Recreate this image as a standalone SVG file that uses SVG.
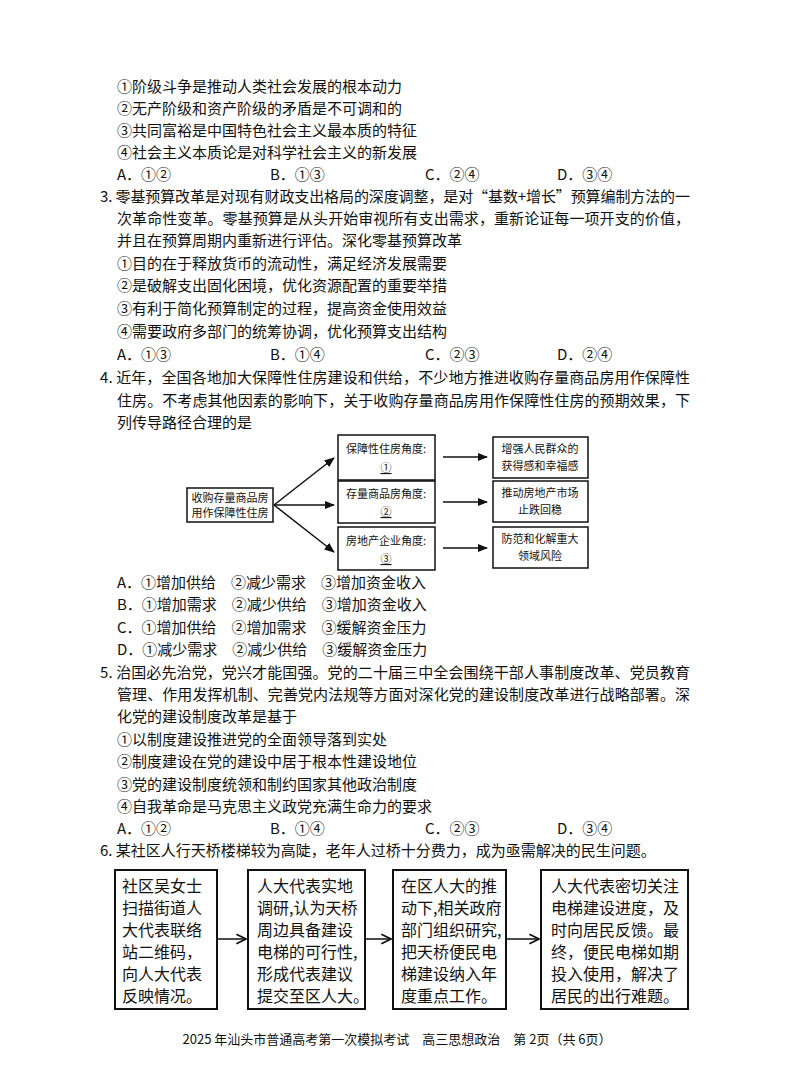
<svg xmlns="http://www.w3.org/2000/svg" width="794" height="1066" viewBox="0 0 794 1066">
<style>
text{font-family:"Noto Sans CJK SC","Noto Sans",sans-serif;font-size:15px;fill:#111}
.s{font-size:11px}
.b{font-size:16px}
rect{fill:#fff;stroke:#111;stroke-width:1.5}
.bx{stroke-width:2}
line{stroke:#111;stroke-width:1.5}
</style>
<defs><marker id="ah" viewBox="0 0 10 10" refX="9" refY="5" markerWidth="7" markerHeight="7" orient="auto"><path d="M0,1 L10,5 L0,9 z" fill="#111"/></marker>
<marker id="oa" viewBox="0 0 10 10" refX="9" refY="5" markerWidth="8" markerHeight="8" orient="auto"><path d="M1,1 L9,5 L1,9" fill="none" stroke="#111" stroke-width="1.5"/></marker></defs>
<rect x="0" y="0" width="794" height="1066" style="fill:#fff;stroke:none"/>
<text x="117" y="92">①阶级斗争是推动人类社会发展的根本动力</text>
<text x="117" y="114">②无产阶级和资产阶级的矛盾是不可调和的</text>
<text x="117" y="136">③共同富裕是中国特色社会主义最本质的特征</text>
<text x="117" y="158">④社会主义本质论是对科学社会主义的新发展</text>
<text x="117" y="180">A．①②</text><text x="270" y="180">B．①③</text><text x="425" y="180">C．②④</text><text x="557" y="180">D．③④</text>
<text x="100" y="202" textLength="590">3. 零基预算改革是对现有财政支出格局的深度调整，是对“基数+增长”预算编制方法的一</text>
<text x="117" y="224" textLength="573">次革命性变革。零基预算是从头开始审视所有支出需求，重新论证每一项开支的价值，</text>
<text x="117" y="246">并且在预算周期内重新进行评估。深化零基预算改革</text>
<text x="117" y="269">①目的在于释放货币的流动性，满足经济发展需要</text>
<text x="117" y="291">②是破解支出固化困境，优化资源配置的重要举措</text>
<text x="117" y="314">③有利于简化预算制定的过程，提高资金使用效益</text>
<text x="117" y="337">④需要政府多部门的统筹协调，优化预算支出结构</text>
<text x="117" y="360">A．①③</text><text x="270" y="360">B．①④</text><text x="425" y="360">C．②③</text><text x="557" y="360">D．②④</text>
<text x="100" y="383" textLength="590">4. 近年，全国各地加大保障性住房建设和供给，不少地方推进收购存量商品房用作保障性</text>
<text x="117" y="406" textLength="573">住房。不考虑其他因素的影响下，关于收购存量商品房用作保障性住房的预期效果，下</text>
<text x="117" y="428">列传导路径合理的是</text>
<g id="n-src"><rect x="187" y="488" width="86" height="34"/><text class="s" x="230" y="502" text-anchor="middle">收购存量商品房</text><text class="s" x="230" y="517" text-anchor="middle">用作保障性住房</text></g>
<g id="n-m1"><rect x="338" y="435" width="97" height="45"/><text class="s" x="386" y="453" text-anchor="middle">保障性住房角度:</text><text class="s" x="386" y="472" text-anchor="middle" text-decoration="underline">①</text></g>
<g id="n-m2"><rect x="338" y="481" width="97" height="42"/><text class="s" x="386" y="498" text-anchor="middle">存量商品房角度:</text><text class="s" x="386" y="516" text-anchor="middle" text-decoration="underline">②</text></g>
<g id="n-m3"><rect x="338" y="527" width="97" height="43"/><text class="s" x="386" y="545" text-anchor="middle">房地产企业角度:</text><text class="s" x="386" y="563" text-anchor="middle" text-decoration="underline">③</text></g>
<g id="n-r1"><rect x="493" y="437" width="95" height="41"/><text class="s" x="540" y="453" text-anchor="middle">增强人民群众的</text><text class="s" x="540" y="470" text-anchor="middle">获得感和幸福感</text></g>
<g id="n-r2"><rect x="493" y="481" width="95" height="41"/><text class="s" x="540" y="497" text-anchor="middle">推动房地产市场</text><text class="s" x="540" y="514" text-anchor="middle">止跌回稳</text></g>
<g id="n-r3"><rect x="493" y="527" width="95" height="41"/><text class="s" x="540" y="543" text-anchor="middle">防范和化解重大</text><text class="s" x="540" y="560" text-anchor="middle">领域风险</text></g>
<g id="connectors">
<line x1="274" y1="505" x2="334" y2="458" marker-end="url(#ah)"/>
<line x1="274" y1="505" x2="334" y2="505" marker-end="url(#ah)"/>
<line x1="274" y1="505" x2="334" y2="552" marker-end="url(#ah)"/>
<line x1="443" y1="457" x2="487" y2="457" marker-end="url(#ah)"/>
<line x1="443" y1="502" x2="487" y2="502" marker-end="url(#ah)"/>
<line x1="443" y1="548" x2="487" y2="548" marker-end="url(#ah)"/>
<line x1="217" y1="939" x2="246" y2="939" marker-end="url(#oa)"/>
<line x1="365" y1="939" x2="391" y2="939" marker-end="url(#oa)"/>
<line x1="506" y1="939" x2="539" y2="939" marker-end="url(#oa)"/>
</g>
<text x="117" y="588">A．①增加供给　②减少需求　③增加资金收入</text>
<text x="117" y="610">B．①增加需求　②减少供给　③增加资金收入</text>
<text x="117" y="633">C．①增加供给　②增加需求　③缓解资金压力</text>
<text x="117" y="655">D．①减少需求　②减少供给　③缓解资金压力</text>
<text x="100" y="678" textLength="590">5. 治国必先治党，党兴才能国强。党的二十届三中全会围绕干部人事制度改革、党员教育</text>
<text x="117" y="700" textLength="573">管理、作用发挥机制、完善党内法规等方面对深化党的建设制度改革进行战略部署。深</text>
<text x="117" y="722">化党的建设制度改革是基于</text>
<text x="117" y="745">①以制度建设推进党的全面领导落到实处</text>
<text x="117" y="767">②制度建设在党的建设中居于根本性建设地位</text>
<text x="117" y="790">③党的建设制度统领和制约国家其他政治制度</text>
<text x="117" y="812">④自我革命是马克思主义政党充满生命力的要求</text>
<text x="117" y="834">A．①②</text><text x="270" y="834">B．①④</text><text x="425" y="834">C．②③</text><text x="557" y="834">D．③④</text>
<text x="100" y="856">6. 某社区人行天桥楼梯较为高陡，老年人过桥十分费力，成为亟需解决的民生问题。</text>
<g id="n-f1"><rect class="bx" x="115" y="870" width="102" height="139"/>
<text class="b"><tspan x="122" y="892">社区吴女士</tspan><tspan x="122" y="914">扫描街道人</tspan><tspan x="122" y="936">大代表联络</tspan><tspan x="122" y="958">站二维码，</tspan><tspan x="122" y="980">向人大代表</tspan><tspan x="122" y="1002">反映情况。</tspan></text></g>
<g id="n-f2"><rect class="bx" x="248" y="870" width="117" height="139"/>
<text class="b"><tspan x="257" y="892">人大代表实地</tspan><tspan x="257" y="914">调研,认为天桥</tspan><tspan x="257" y="936">周边具备建设</tspan><tspan x="257" y="958">电梯的可行性,</tspan><tspan x="257" y="980">形成代表建议</tspan><tspan x="257" y="1002">提交至区人大。</tspan></text></g>
<g id="n-f3"><rect class="bx" x="393" y="870" width="113" height="139"/>
<text class="b"><tspan x="401" y="892">在区人大的推</tspan><tspan x="401" y="914">动下,相关政府</tspan><tspan x="401" y="936">部门组织研究,</tspan><tspan x="401" y="958">把天桥便民电</tspan><tspan x="401" y="980">梯建设纳入年</tspan><tspan x="401" y="1002">度重点工作。</tspan></text></g>
<g id="n-f4"><rect class="bx" x="541" y="870" width="147" height="139"/>
<text class="b"><tspan x="551" y="892">人大代表密切关注</tspan><tspan x="551" y="914">电梯建设进度，及</tspan><tspan x="551" y="936">时向居民反馈。最</tspan><tspan x="551" y="958">终，便民电梯如期</tspan><tspan x="551" y="980">投入使用，解决了</tspan><tspan x="551" y="1002">居民的出行难题。</tspan></text></g>
<text x="397" y="1044" text-anchor="middle" style="font-size:13px">2025 年汕头市普通高考第一次模拟考试　高三思想政治　第 2页（共 6页）</text>
</svg>
